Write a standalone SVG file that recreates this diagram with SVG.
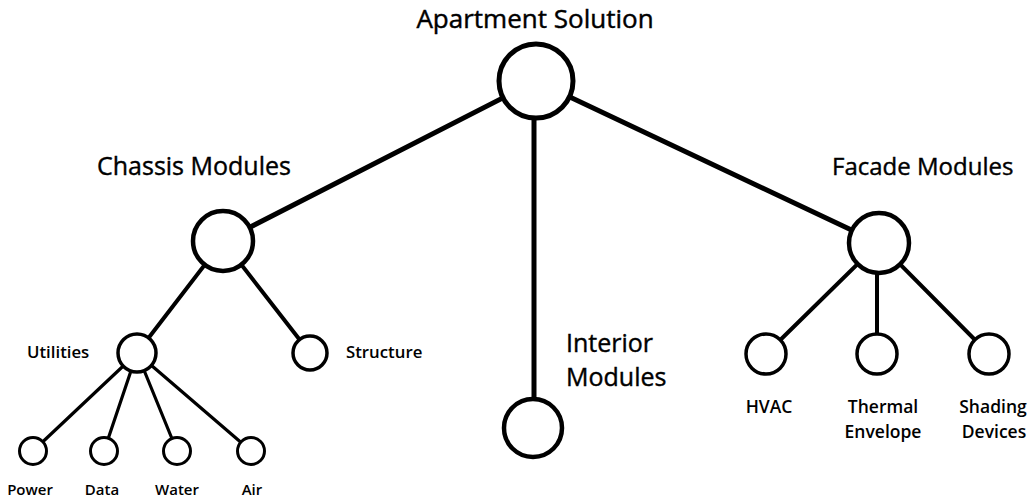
<svg xmlns="http://www.w3.org/2000/svg" width="1032" height="500" viewBox="0 0 1032 500">
  <style>
    .bg { fill: #ffffff; }
    .edge { stroke: #000; stroke-linecap: round; fill: none; }
    .e-main { stroke-width: 5; }
    .e-mid { stroke-width: 4; }
    .e-leaf { stroke-width: 3.2; }
    .node { fill: #fff; stroke: #000; }
    .n-root { stroke-width: 5; }
    .n-mid { stroke-width: 4.5; }
    .n-sub { stroke-width: 3.5; }
    .n-leaf { stroke-width: 3; }
    text { font-family: "Open Sans", "Liberation Sans", sans-serif; fill: #000; }
    .t-big { font-size: 26px; stroke: #000; stroke-width: 0.45; }
    .t-mid { font-size: 25px; stroke: #000; stroke-width: 0.4; }
    .t-sub { font-size: 16.8px; font-weight: 600; }
    .t-fac { font-size: 17.5px; font-weight: 600; }
    .t-leaf { font-size: 15px; font-weight: 600; }
  </style>

  <rect class="bg" x="0" y="0" width="1032" height="500"/>

  <!-- connectors: drawn centre to centre, nodes are painted over them -->
  <g id="connectors">
    <line class="edge e-main" x1="536" y1="81" x2="223" y2="241"/>
    <line class="edge e-main" x1="536" y1="81" x2="879" y2="243"/>
    <line class="edge e-main" x1="534" y1="81" x2="534" y2="428"/>
    <line class="edge e-mid" x1="223" y1="241" x2="137" y2="353"/>
    <line class="edge e-mid" x1="223" y1="241" x2="310" y2="353"/>
    <line class="edge e-mid" x1="879" y1="243" x2="766" y2="354"/>
    <line class="edge e-mid" x1="877" y1="243" x2="877" y2="354"/>
    <line class="edge e-mid" x1="879" y1="243" x2="989" y2="354"/>
    <line class="edge e-leaf" x1="137" y1="353" x2="33" y2="451"/>
    <line class="edge e-leaf" x1="137" y1="353" x2="104" y2="451"/>
    <line class="edge e-leaf" x1="137" y1="353" x2="177" y2="451"/>
    <line class="edge e-leaf" x1="137" y1="353" x2="251" y2="451"/>
  </g>

  <g id="apartment-solution">
    <circle class="node n-root" cx="536" cy="81" r="37"/>
    <text class="t-big" x="535" y="28" text-anchor="middle">Apartment Solution</text>
  </g>

  <g id="chassis-modules">
    <circle class="node n-mid" cx="223" cy="241" r="30"/>
    <text class="t-mid" x="97" y="175">Chassis Modules</text>
  </g>

  <g id="facade-modules">
    <circle class="node n-mid" cx="879" cy="243" r="30"/>
    <text class="t-mid" x="832" y="175" style="font-size:24px">Facade Modules</text>
  </g>

  <g id="interior-modules">
    <circle class="node n-mid" cx="533" cy="428" r="29"/>
    <text class="t-mid" x="566" y="352">Interior</text>
    <text class="t-mid" x="566" y="386">Modules</text>
  </g>

  <g id="utilities">
    <circle class="node n-sub" cx="137" cy="353" r="19"/>
    <text class="t-sub" x="27" y="358">Utilities</text>
  </g>

  <g id="structure">
    <circle class="node n-sub" cx="310" cy="353" r="17"/>
    <text class="t-sub" x="346" y="358">Structure</text>
  </g>

  <g id="power">
    <circle class="node n-leaf" cx="33" cy="451" r="13.5"/>
    <text class="t-leaf" x="30" y="495" text-anchor="middle">Power</text>
  </g>

  <g id="data">
    <circle class="node n-leaf" cx="104" cy="451" r="13.5"/>
    <text class="t-leaf" x="102" y="495" text-anchor="middle">Data</text>
  </g>

  <g id="water">
    <circle class="node n-leaf" cx="177" cy="451" r="13.5"/>
    <text class="t-leaf" x="177" y="495" text-anchor="middle">Water</text>
  </g>

  <g id="air">
    <circle class="node n-leaf" cx="251" cy="451" r="13.5"/>
    <text class="t-leaf" x="252" y="495" text-anchor="middle">Air</text>
  </g>

  <g id="hvac">
    <circle class="node n-sub" cx="766" cy="354" r="20"/>
    <text class="t-fac" x="769" y="413" text-anchor="middle">HVAC</text>
  </g>

  <g id="thermal-envelope">
    <circle class="node n-sub" cx="877" cy="354" r="20"/>
    <text class="t-fac" x="883" y="413" text-anchor="middle">Thermal</text>
    <text class="t-fac" x="883" y="438" text-anchor="middle">Envelope</text>
  </g>

  <g id="shading-devices">
    <circle class="node n-sub" cx="989" cy="354" r="20"/>
    <text class="t-fac" x="993" y="413" text-anchor="middle">Shading</text>
    <text class="t-fac" x="994" y="438" text-anchor="middle">Devices</text>
  </g>
</svg>
